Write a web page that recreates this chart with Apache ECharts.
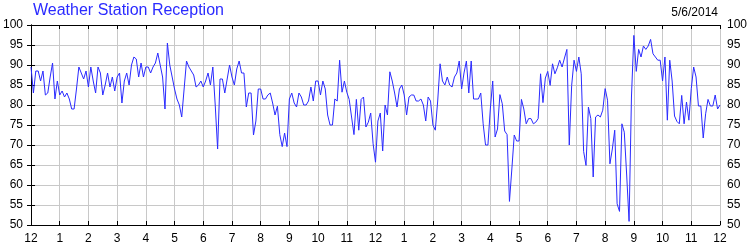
<!DOCTYPE html>
<html>
<head>
<meta charset="utf-8">
<script src="https://cdn.jsdelivr.net/npm/echarts@6/dist/echarts.min.js"></script>
<style>
html,body{margin:0;padding:0;background:#fff;}
#chart{width:750px;height:250px;}
</style>
</head>
<body>
<div id="chart"></div>
<script>
// Signal reception (%) sampled every 5 minutes, from midnight to midnight
const titleText = 'Weather Station Reception';
const dateText = '5/6/2014';
const stepMinutes = 5;
const xTickLabels = ['12','1','2','3','4','5','6','7','8','9','10','11','12','1','2','3','4','5','6','7','8','9','10','11','12'];
const yMin = 50, yMax = 100, yStep = 5;
const reception = [
  89.5, 83, 88.5, 88.5, 86, 88.5, 82.5, 83, 87, 90.5, 81.5, 86,
  82.5, 83.5, 82, 83, 81.5, 79, 79, 84, 89.5, 88, 86.5, 88.5,
  84.5, 89.5, 86, 83, 89.5, 88, 82.5, 85, 88, 84.5, 87, 83.5,
  87, 88, 80.5, 86, 88, 85, 90, 92, 91.5, 87, 90.5, 87,
  89.5, 89.5, 88, 89.5, 90.5, 93, 90, 87, 79, 95.5, 90, 87,
  84, 81.5, 80, 77, 84, 91, 89.5, 88.5, 87.5, 84.5, 85, 86,
  84.5, 86, 88, 85, 89.5, 80, 69, 86.5, 86.5, 83, 86.5, 90,
  87, 85, 89, 91, 88, 88, 79.5, 83, 83, 72.5, 76, 84,
  84, 81.5, 81.5, 82.5, 83, 80.5, 77.5, 79.7, 72.6, 69.6, 73, 69.6,
  81.5, 83, 80.5, 79.5, 83, 82, 80, 80, 81, 84.5, 81, 86,
  86, 82.5, 86, 84, 77.5, 75, 75, 81.5, 81, 91.2, 83.2, 86,
  83.2, 81.4, 77, 72.6, 81.4, 73.7, 81.4, 82, 74.5, 75.7, 78, 70.3,
  65.7, 76, 78, 68.5, 80, 77.5, 88.3, 86, 83, 79.5, 84, 85,
  82.5, 77.5, 82, 82.5, 82.5, 81, 81, 81.5, 80, 76, 82, 81,
  75, 73.7, 81, 90.3, 86, 85, 87, 85, 84.5, 87, 88, 91,
  84, 88, 91, 83, 91, 81.5, 81.5, 81.5, 83, 75.3, 70, 70,
  79, 86, 72, 74, 82.6, 80.3, 73.5, 72.6, 55.9, 64, 72.5, 71,
  71, 81.4, 79, 75.3, 76.6, 76.6, 75.3, 75.7, 76.6, 87.8, 80.6, 86.75,
  88.4, 84.9, 90.3, 87.8, 89.3, 91.2, 89.5, 91.75, 93.9, 70, 84.9, 91.2,
  88.4, 92, 87.8, 68.4, 64.9, 79.5, 76.6, 62, 77, 77.5, 77, 78.7,
  84.1, 81.2, 65.3, 69, 73.7, 55.3, 53.4, 75.3, 73.2, 62.5, 50.9, 82,
  97.4, 88.4, 93.9, 92, 94.75, 93.9, 94.75, 96.4, 92.8, 92, 91.2, 91.2,
  86, 92, 76.2, 91.2, 86, 77.25, 75.9, 75.3, 82.4, 75.3, 80.75, 76.2,
  84.1, 89.5, 87, 79.75, 79.75, 71.75, 77.8, 81.4, 79.75, 79.75, 82.5, 79,
  80
];

const seriesData = reception.map((v, i) => [i * stepMinutes, v]);
const fontFamily = '"Liberation Sans", Arial, sans-serif';
const xMax = (xTickLabels.length - 1) * 60;

const chart = echarts.init(document.getElementById('chart'), null, {renderer: 'canvas'});
const axisLineStyle = {show: true, lineStyle: {color: '#000', width: 1}};
const gridLine = {show: true, lineStyle: {color: '#c8c8c8', width: 1, type: 'solid'}};

chart.setOption({
  animation: false,
  backgroundColor: '#fff',
  title: [
    {text: titleText, left: 33, top: 3, padding: 0,
     textStyle: {fontFamily, fontSize: 16, fontWeight: 'normal', color: '#2a2aff'}},
    {text: dateText, right: 32, top: 7, padding: 0,
     textStyle: {fontFamily, fontSize: 12, fontWeight: 'normal', color: '#000'}}
  ],
  grid: {left: 31, right: 29, top: 25, bottom: 25, containLabel: false},
  xAxis: [
    {type: 'value', min: 0, max: xMax, interval: 60, position: 'bottom',
     axisLine: axisLineStyle,
     axisTick: {show: true, inside: true, length: 4, lineStyle: {color: '#000'}},
     axisLabel: {show: true, margin: 8, color: '#000', fontFamily, fontSize: 12,
       formatter: v => xTickLabels[Math.round(v / 60)]},
     splitLine: gridLine},
    {type: 'value', min: 0, max: xMax, interval: 60, position: 'top',
     axisLine: axisLineStyle,
     axisTick: {show: true, inside: true, length: 4, lineStyle: {color: '#000'}},
     axisLabel: {show: false}, splitLine: {show: false}}
  ],
  yAxis: [
    {type: 'value', min: yMin, max: yMax, interval: yStep, position: 'left',
     axisLine: axisLineStyle,
     axisTick: {show: true, inside: true, length: 4, lineStyle: {color: '#000'}},
     axisLabel: {show: true, margin: 8, color: '#000', fontFamily, fontSize: 12},
     splitLine: gridLine},
    {type: 'value', min: yMin, max: yMax, interval: yStep, position: 'right',
     axisLine: axisLineStyle,
     axisTick: {show: true, inside: true, length: 4, lineStyle: {color: '#000'}},
     axisLabel: {show: true, margin: 7, color: '#000', fontFamily, fontSize: 12},
     splitLine: {show: false}}
  ],
  series: [{
    type: 'line', xAxisIndex: 0, yAxisIndex: 0,
    data: seriesData, showSymbol: false, symbol: 'none',
    lineStyle: {color: '#2a2aff', width: 1},
    z: 3
  }]
});
</script>
</body>
</html>
